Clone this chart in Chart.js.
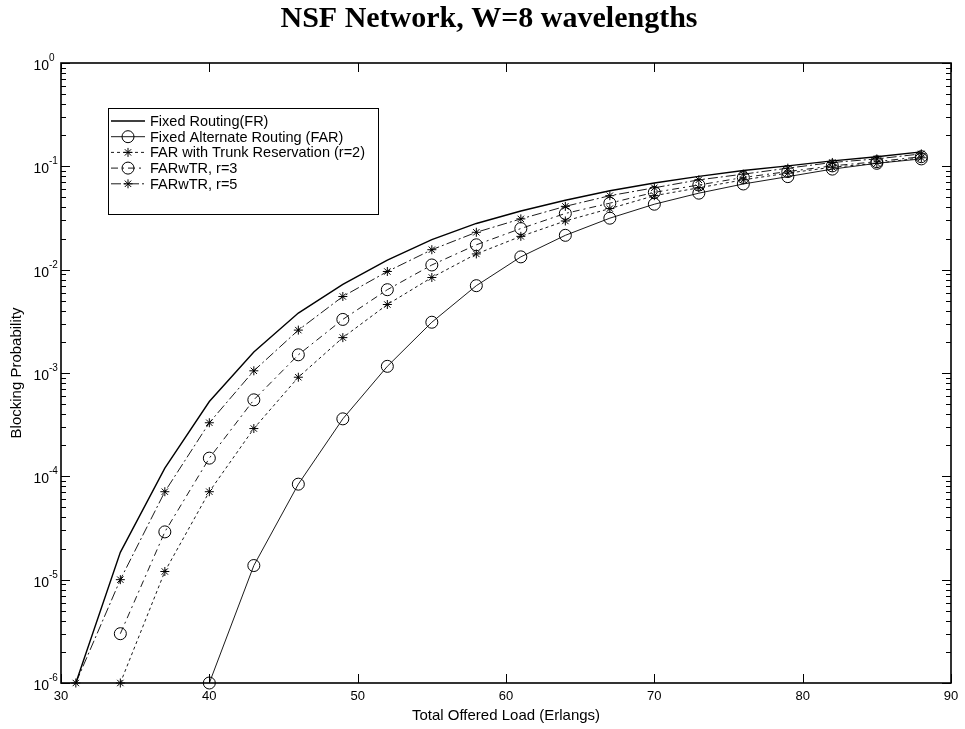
<!DOCTYPE html>
<html>
<head>
<meta charset="utf-8">
<title>NSF Network, W=8 wavelengths</title>
<script src="https://cdn.jsdelivr.net/npm/chart.js@4/dist/chart.umd.min.js"></script>
<style>
  html, body { margin: 0; padding: 0; background: #fff; }
  canvas { display: block; }
</style>
</head>
<body>
<canvas id="blockingChart" width="965" height="729"></canvas>
<script>
// offered load (Erlangs) for every simulated point
const load = [31, 34, 37, 40, 43, 46, 49, 52, 55, 58, 61, 64, 67, 70, 73, 76, 79, 82, 85, 88];

// blocking probability per scheme, null where the run gave nothing above 1e-6
const fixedRouting = [1e-6, 1.84e-5, 1.2e-4, 5.3e-4, 1.6e-3, 3.8e-3, 7.2e-3, 1.24e-2, 1.95e-2, 2.8e-2,
    3.7e-2, 4.7e-2, 5.8e-2, 6.9e-2, 8.0e-2, 9.1e-2, 0.101, 0.113, 0.124, 0.138];
const farAlternate = [null, null, null, 1e-6, 1.37e-5, 8.4e-5, 3.6e-4, 1.16e-3, 3.1e-3, 7.0e-3,
    1.33e-2, 2.15e-2, 3.15e-2, 4.3e-2, 5.5e-2, 6.75e-2, 7.95e-2, 9.4e-2, 0.107, 0.118];
const farTrunkR2 = [null, 1e-6, 1.2e-5, 7.1e-5, 2.9e-4, 9.1e-4, 2.2e-3, 4.6e-3, 8.4e-3, 1.42e-2,
    2.1e-2, 2.96e-2, 3.9e-2, 5.2e-2, 6.2e-2, 7.4e-2, 8.6e-2, 9.8e-2, 0.107, 0.121];
const farTrunkR3 = [null, 3e-6, 2.9e-5, 1.5e-4, 5.5e-4, 1.5e-3, 3.3e-3, 6.4e-3, 1.11e-2, 1.74e-2,
    2.5e-2, 3.5e-2, 4.4e-2, 5.6e-2, 6.6e-2, 7.8e-2, 8.9e-2, 0.101, 0.111, 0.124];
const farTrunkR5 = [1e-6, 1e-5, 7.1e-5, 3.3e-4, 1.05e-3, 2.6e-3, 5.5e-3, 9.6e-3, 1.56e-2, 2.3e-2,
    3.1e-2, 4.1e-2, 5.2e-2, 6.2e-2, 7.4e-2, 8.4e-2, 9.6e-2, 0.109, 0.118, 0.132];

const seriesNames = [
    "Fixed Routing(FR)",
    "Fixed Alternate Routing (FAR)",
    "FAR with Trunk Reservation (r=2)",
    "FARwTR, r=3",
    "FARwTR, r=5"
];

// axis ticks
const xTicks = [30, 40, 50, 60, 70, 80, 90];
const yExponents = [0, -1, -2, -3, -4, -5, -6];

function toPoints(values) {
    const pts = [];
    values.forEach((v, i) => {
        if (v !== null) pts.push({ x: load[i], y: v });
    });
    return pts;
}

// line look per scheme: dash pattern, marker, line width
const styles = [
    { dash: [], marker: false, radius: 0, width: 1.4 },
    { dash: [], marker: "circle", radius: 6, width: 0.9 },
    { dash: [3, 3], marker: "star", radius: 4.5, width: 0.9 },
    { dash: [7, 4, 2, 4], marker: "circle", radius: 6, width: 0.9 },
    { dash: [10, 3, 2, 3], marker: "star", radius: 4.5, width: 0.9 }
];

const allSeries = [fixedRouting, farAlternate, farTrunkR2, farTrunkR3, farTrunkR5];

const datasets = allSeries.map((values, i) => ({
    label: seriesNames[i],
    data: toPoints(values),
    borderColor: "#000",
    borderWidth: styles[i].width,
    borderDash: styles[i].dash,
    pointStyle: styles[i].marker,
    pointRadius: styles[i].radius,
    pointBorderColor: "#000",
    pointBackgroundColor: "rgba(0,0,0,0)",
    pointBorderWidth: 1,
    tension: 0,
    clip: false
}));

const sans = "'Liberation Sans', Arial, sans-serif";

// axes box, inward ticks, labels, titles and the legend, drawn the old plotting-tool way
const plotFrame = {
    id: "plotFrame",
    afterDraw(chart) {
        const { ctx, chartArea: a, scales: { x, y } } = chart;
        ctx.save();
        ctx.strokeStyle = "#000";
        ctx.fillStyle = "#000";
        ctx.setLineDash([]);

        // x ticks, bottom and top
        ctx.lineWidth = 1;
        ctx.beginPath();
        xTicks.forEach((t) => {
            const px = Math.round(x.getPixelForValue(t)) + 0.5;
            ctx.moveTo(px, a.bottom); ctx.lineTo(px, a.bottom - 9);
            ctx.moveTo(px, a.top); ctx.lineTo(px, a.top + 9);
        });
        // y ticks, decades and minor ones, left and right
        yExponents.forEach((e) => {
            const py = Math.round(y.getPixelForValue(Math.pow(10, e))) + 0.5;
            ctx.moveTo(a.left, py); ctx.lineTo(a.left + 9, py);
            ctx.moveTo(a.right, py); ctx.lineTo(a.right - 9, py);
            if (e < 0) {
                for (let m = 2; m <= 9; m++) {
                    const pm = Math.round(y.getPixelForValue(m * Math.pow(10, e))) + 0.5;
                    ctx.moveTo(a.left, pm); ctx.lineTo(a.left + 5, pm);
                    ctx.moveTo(a.right, pm); ctx.lineTo(a.right - 5, pm);
                }
            }
        });
        ctx.stroke();

        // box
        ctx.lineWidth = 1.6;
        ctx.strokeRect(a.left, a.top, a.right - a.left, a.bottom - a.top);

        // x tick labels
        ctx.font = "13px " + sans;
        ctx.textAlign = "center";
        ctx.textBaseline = "top";
        xTicks.forEach((t) => {
            ctx.fillText(String(t), x.getPixelForValue(t), a.bottom + 7);
        });

        // y tick labels as 10 with a raised exponent
        yExponents.forEach((e) => {
            const py = y.getPixelForValue(Math.pow(10, e));
            ctx.textAlign = "right";
            ctx.textBaseline = "alphabetic";
            ctx.font = "14px " + sans;
            ctx.fillText("10", a.left - 12, py + 7);
            ctx.textAlign = "left";
            ctx.font = "10px " + sans;
            ctx.fillText(String(e), a.left - 12, py - 2);
        });

        // axis titles
        ctx.font = "15px " + sans;
        ctx.textAlign = "center";
        ctx.textBaseline = "middle";
        ctx.fillText("Total Offered Load (Erlangs)", (a.left + a.right) / 2, a.bottom + 33);
        ctx.save();
        ctx.translate(a.left - 44, (a.top + a.bottom) / 2);
        ctx.rotate(-Math.PI / 2);
        ctx.fillText("Blocking Probability", 0, 0);
        ctx.restore();

        // chart title
        ctx.font = "bold 30px 'Liberation Serif', 'Times New Roman', serif";
        ctx.fillText("NSF Network, W=8 wavelengths", 489, 19);

        // legend
        const lx = 108, ly = 108, lw = 270, lh = 106;
        ctx.fillStyle = "#fff";
        ctx.fillRect(lx, ly, lw, lh);
        ctx.lineWidth = 1;
        ctx.strokeStyle = "#000";
        ctx.strokeRect(lx + 0.5, ly + 0.5, lw, lh);
        ctx.font = "14.5px " + sans;
        ctx.textAlign = "left";
        ctx.textBaseline = "middle";
        seriesNames.forEach((name, i) => {
            const ry = ly + 13 + i * 15.7;
            const st = styles[i];
            ctx.lineWidth = st.width;
            ctx.setLineDash(st.dash);
            ctx.beginPath();
            ctx.moveTo(lx + 3, ry);
            ctx.lineTo(lx + 37, ry);
            ctx.stroke();
            ctx.setLineDash([]);
            if (st.marker) {
                ctx.lineWidth = 1;
                ctx.fillStyle = "rgba(0,0,0,0)";
                Chart.helpers.drawPoint(ctx, { pointStyle: st.marker, radius: st.radius, borderWidth: 1, rotation: 0 }, lx + 20, ry);
            }
            ctx.fillStyle = "#000";
            ctx.fillText(name, lx + 42, ry + 1);
        });

        ctx.restore();
    }
};

new Chart(document.getElementById("blockingChart"), {
    type: "line",
    data: { datasets: datasets },
    options: {
        responsive: false,
        animation: false,
        layout: { padding: { left: 61, top: 63, right: 14, bottom: 46 } },
        plugins: {
            legend: { display: false },
            title: { display: false },
            tooltip: { enabled: false }
        },
        scales: {
            x: { type: "linear", min: 30, max: 90, display: false },
            y: { type: "logarithmic", min: 1e-6, max: 1, display: false }
        }
    },
    plugins: [plotFrame]
});
</script>
</body>
</html>
